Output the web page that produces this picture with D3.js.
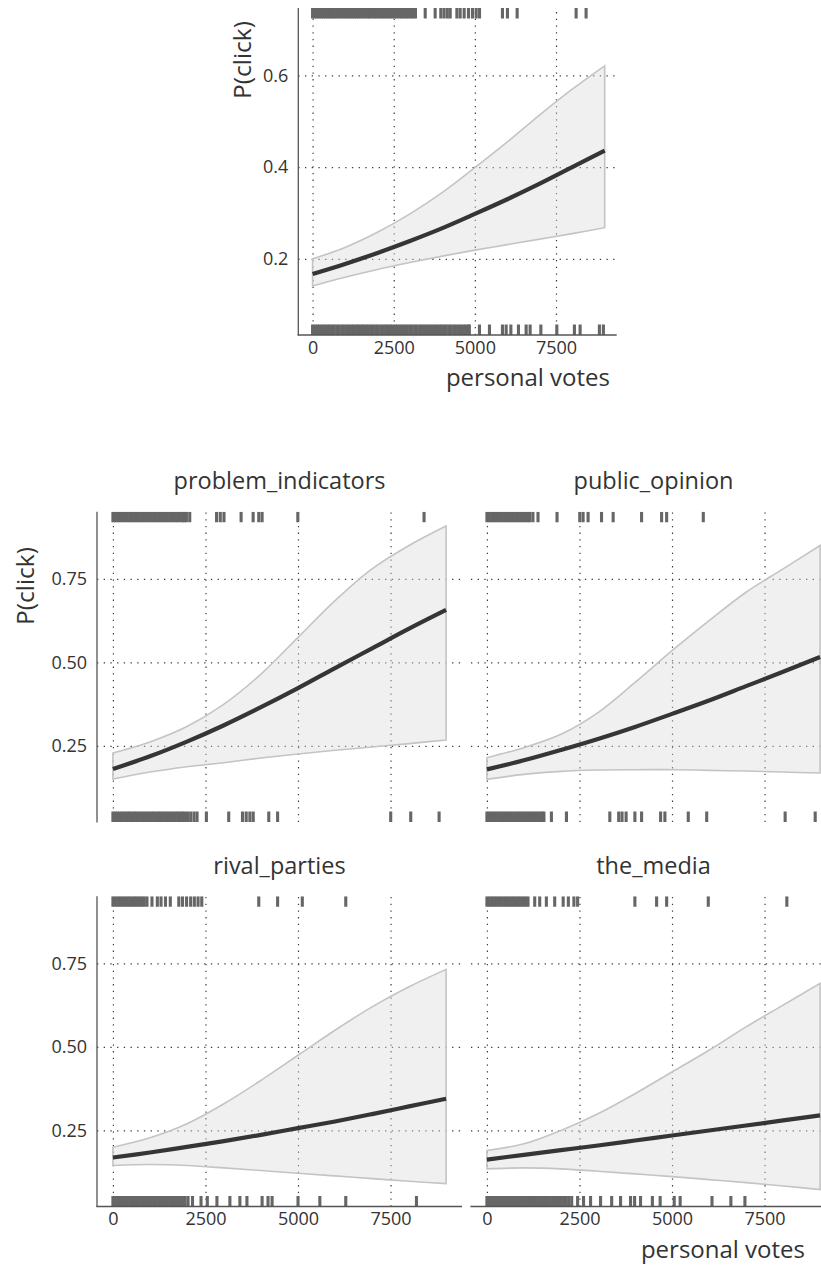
<!DOCTYPE html>
<html>
<head>
<meta charset="utf-8">
<script src="https://cdn.jsdelivr.net/npm/d3@7"></script>
<style>
  body { margin: 0; background: #fff; }
  text { font-family: "Open Sans", sans-serif; fill: #333; }
</style>
</head>
<body>
<svg id="chart" width="821" height="1266"></svg>
<script>
// ---- data -------------------------------------------------------------
const xTicks = [0, 2500, 5000, 7500];
const overallYTicks = [0.2, 0.4, 0.6];
const facetYTicks = [0.25, 0.50, 0.75];
const facetNames = ["problem_indicators", "public_opinion", "rival_parties", "the_media"];

// personal votes at which the fitted curve and its band are given
const fitGrid = [0, 1000, 2000, 3000, 4000, 5000, 6000, 7000, 8000, 9000];

const overallFit  = [0.167, 0.189, 0.213, 0.239, 0.267, 0.298, 0.330, 0.364, 0.400, 0.436];
const overallLow  = [0.141, 0.160, 0.177, 0.192, 0.206, 0.219, 0.231, 0.243, 0.255, 0.268];
const overallHigh = [0.200, 0.225, 0.258, 0.298, 0.345, 0.399, 0.455, 0.514, 0.570, 0.621];

const problemFit  = [0.181, 0.219, 0.263, 0.312, 0.366, 0.423, 0.483, 0.542, 0.601, 0.657];
const problemLow  = [0.151, 0.172, 0.188, 0.200, 0.214, 0.226, 0.237, 0.247, 0.257, 0.268];
const problemHigh = [0.229, 0.262, 0.308, 0.375, 0.465, 0.575, 0.685, 0.780, 0.850, 0.908];

const publicFit  = [0.180, 0.207, 0.238, 0.271, 0.307, 0.346, 0.386, 0.429, 0.472, 0.516];
const publicLow  = [0.150, 0.165, 0.174, 0.178, 0.179, 0.179, 0.177, 0.175, 0.172, 0.169];
const publicHigh = [0.215, 0.245, 0.285, 0.350, 0.440, 0.535, 0.625, 0.710, 0.780, 0.850];

const rivalFit  = [0.169, 0.184, 0.201, 0.218, 0.237, 0.257, 0.277, 0.299, 0.322, 0.345];
const rivalLow  = [0.145, 0.148, 0.145, 0.138, 0.130, 0.122, 0.114, 0.106, 0.098, 0.091];
const rivalHigh = [0.200, 0.228, 0.270, 0.330, 0.400, 0.475, 0.550, 0.620, 0.680, 0.732];

const mediaFit  = [0.163, 0.177, 0.191, 0.205, 0.220, 0.235, 0.250, 0.265, 0.280, 0.295];
const mediaLow  = [0.135, 0.138, 0.135, 0.128, 0.120, 0.112, 0.103, 0.094, 0.084, 0.073];
const mediaHigh = [0.190, 0.210, 0.250, 0.300, 0.360, 0.425, 0.490, 0.560, 0.625, 0.690];

// observed personal votes (rug): clicked = 1 on top, clicked = 0 at bottom
const overallClicked = [0, 60, 130, 200, 265, 330, 400, 470, 540, 600, 670, 740, 810, 880, 945,
  1010, 1080, 1150, 1220, 1290, 1350, 1420, 1490, 1560, 1630, 1700, 1760, 1830, 1900, 1970,
  2040, 2110, 2170, 2240, 2310, 2380, 2450, 2520, 2590, 2680, 2750, 2820, 2890, 2960, 3030,
  3100, 3170, 3470, 3777, 3950, 4050, 4150, 4240, 4446, 4547, 4670, 4803, 4926, 5040, 5143,
  5850, 6004, 6303, 8120, 8427];
const overallNotClicked = [0, 70, 150, 220, 300, 370, 450, 520, 600, 670, 750, 820, 900, 970,
  1050, 1120, 1200, 1270, 1350, 1420, 1500, 1570, 1650, 1720, 1800, 1870, 1950, 2020, 2100,
  2170, 2250, 2320, 2400, 2470, 2550, 2620, 2700, 2770, 2850, 2920, 3000, 3070, 3150, 3220,
  3300, 3370, 3450, 3520, 3600, 3670, 3750, 3820, 3900, 3970, 4050, 4120, 4200, 4270, 4350,
  4420, 4500, 4570, 4650, 4720, 4800, 4830, 5142, 5450, 5850, 5964, 6109, 6343, 6580, 6703,
  7033, 7525, 8067, 8243, 8837, 8960];

const problemClicked = [0, 65, 130, 195, 260, 325, 390, 455, 520, 585, 650, 715, 780, 845, 910,
  975, 1040, 1105, 1170, 1235, 1300, 1365, 1430, 1495, 1560, 1625, 1690, 1755, 1820, 1885,
  1930, 1985, 2075, 2800, 2900, 3000, 3463, 3788, 3940, 4030, 4995, 8405];
const problemNotClicked = [0, 60, 125, 190, 255, 320, 385, 450, 515, 580, 645, 710, 775, 840,
  905, 970, 1035, 1100, 1165, 1230, 1295, 1360, 1425, 1490, 1555, 1620, 1685, 1750, 1815,
  1880, 1945, 2015, 2100, 2190, 2273, 2525, 3128, 3500, 3600, 3700, 3790, 4210, 4449, 7504,
  8045, 8811];

const publicClicked = [0, 65, 130, 195, 260, 325, 390, 455, 520, 585, 650, 715, 780, 845, 910,
  975, 1040, 1100, 1160, 1243, 1380, 1894, 2508, 2598, 2733, 3096, 3410, 4178, 4719, 4855, 5845];
const publicNotClicked = [0, 60, 125, 190, 255, 320, 385, 450, 515, 580, 645, 710, 775, 840,
  905, 970, 1035, 1100, 1165, 1230, 1295, 1360, 1425, 1490, 1540, 1742, 2148, 3320, 3560,
  3650, 3760, 3997, 4178, 4692, 4808, 5439, 5937, 8056, 8868];

const rivalClicked = [0, 65, 130, 195, 260, 325, 390, 455, 520, 585, 650, 715, 780, 845, 920,
  1055, 1200, 1300, 1420, 1550, 1780, 1880, 1990, 2100, 2200, 2300, 2400, 3940, 4449, 5116, 6290];
const rivalNotClicked = [0, 65, 130, 195, 260, 325, 390, 455, 520, 585, 650, 715, 780, 845, 910,
  975, 1040, 1105, 1170, 1235, 1300, 1365, 1430, 1495, 1560, 1625, 1690, 1755, 1820, 1885,
  1950, 2030, 2150, 2380, 2550, 2810, 3160, 3430, 3620, 4030, 4190, 4300, 5000, 5590, 6290, 8200];

const mediaClicked = [0, 65, 130, 195, 260, 325, 390, 455, 520, 585, 650, 715, 780, 845, 910,
  975, 1040, 1110, 1291, 1426, 1606, 1831, 2060, 2200, 2350, 2450, 3997, 4584, 4855, 5980, 8102];
const mediaNotClicked = [0, 60, 125, 190, 255, 320, 385, 450, 515, 580, 645, 710, 775, 840,
  905, 970, 1035, 1100, 1165, 1230, 1295, 1360, 1425, 1490, 1555, 1620, 1685, 1750, 1815,
  1880, 1945, 2010, 2075, 2140, 2210, 2290, 2450, 2610, 2800, 3070, 3370, 3610, 3880, 3990,
  4150, 4470, 4680, 5060, 5220, 6080, 6590, 6970];

// ---- drawing ----------------------------------------------------------
const svg = d3.select("#chart");
const RUG_LEN = 10.5;
const RUG_W = 3.1;
const TICK_FONT = 18;

function drawPanel(p) {
  const x = d3.scaleLinear().domain(p.xDomain).range(p.xRange);
  const y = d3.scaleLinear().domain(p.yDomain).range(p.yRange);
  const [x0, x1] = p.xRange;
  const [yb, yt] = p.yRange;
  const g = svg.append("g");

  const clipId = "clip-" + p.id;
  g.append("clipPath").attr("id", clipId)
    .append("rect").attr("x", x0).attr("y", yt).attr("width", x1 - x0).attr("height", yb - yt);
  const body = g.append("g").attr("clip-path", `url(#${clipId})`);

  // dotted grid
  const gx = body.append("g").attr("transform", `translate(0,${yb})`)
    .call(d3.axisBottom(x).tickValues(xTicks).tickSize(-(yb - yt)).tickFormat(""));
  const gy = body.append("g").attr("transform", `translate(${x0},0)`)
    .call(d3.axisLeft(y).tickValues(p.yTicks).tickSize(-(x1 - x0)).tickFormat(""));
  [gx, gy].forEach(a => {
    a.select(".domain").remove();
    a.selectAll("line").attr("stroke", "#3a3a3a").attr("stroke-width", 1.2)
      .attr("stroke-dasharray", "1.3,5.4");
  });

  // confidence band
  const rows = fitGrid.map((v, i) => ({ v, fit: p.fit[i], lo: p.low[i], hi: p.high[i] }));
  const curve = d3.curveCatmullRom.alpha(0.5);
  body.append("path").datum(rows)
    .attr("d", d3.area().curve(curve).x(d => x(d.v)).y0(d => y(d.lo)).y1(d => y(d.hi)))
    .attr("fill", "#d9d9d9").attr("fill-opacity", 0.4)
    .attr("stroke", "#c4c4c4").attr("stroke-width", 1.6);

  // fitted probability
  body.append("path").datum(rows)
    .attr("d", d3.line().curve(curve).x(d => x(d.v)).y(d => y(d.fit)))
    .attr("fill", "none").attr("stroke", "#353535").attr("stroke-width", 4.2);

  // rugs
  body.append("g").selectAll("line").data(p.clicked).join("line")
    .attr("x1", d => x(d)).attr("x2", d => x(d))
    .attr("y1", yt).attr("y2", yt + RUG_LEN)
    .attr("stroke", "#666").attr("stroke-width", RUG_W);
  body.append("g").selectAll("line").data(p.notClicked).join("line")
    .attr("x1", d => x(d)).attr("x2", d => x(d))
    .attr("y1", yb - RUG_LEN).attr("y2", yb)
    .attr("stroke", "#666").attr("stroke-width", RUG_W);

  // axis lines
  if (p.leftAxis) {
    g.append("line").attr("x1", x0).attr("x2", x0).attr("y1", yt).attr("y2", yb + 0.6)
      .attr("stroke", "#555").attr("stroke-width", 1.3);
  }
  if (p.bottomAxis) {
    g.append("line").attr("x1", x0 - 0.6).attr("x2", x1).attr("y1", yb).attr("y2", yb)
      .attr("stroke", "#555").attr("stroke-width", 1.3);
  }

  // tick labels
  if (p.leftAxis) {
    const ay = g.append("g").attr("transform", `translate(${x0},0)`)
      .call(d3.axisLeft(y).tickValues(p.yTicks).tickSize(0).tickPadding(10)
        .tickFormat(d3.format(p.yFormat)));
    ay.select(".domain").remove();
    ay.selectAll("text").attr("font-size", TICK_FONT).attr("font-family", null).attr("fill", "#2b2b2b");
  }
  if (p.bottomAxis) {
    const ax = g.append("g").attr("transform", `translate(0,${yb})`)
      .call(d3.axisBottom(x).tickValues(xTicks).tickSize(0).tickPadding(6)
        .tickFormat(d3.format("d")));
    ax.select(".domain").remove();
    ax.selectAll("text").attr("font-size", TICK_FONT).attr("font-family", null).attr("fill", "#2b2b2b");
  }

  if (p.title) {
    g.append("text").attr("x", (x0 + x1) / 2).attr("y", p.titleY)
      .attr("text-anchor", "middle").attr("font-size", 23.5).text(p.title);
  }
  return { x, y };
}

// single panel
drawPanel({
  id: "overall",
  xDomain: [-440, 9370], xRange: [298.3, 616.7],
  yDomain: [0.034, 0.747], yRange: [335, 8],
  yTicks: overallYTicks, yFormat: ".1f",
  fit: overallFit, low: overallLow, high: overallHigh,
  clicked: overallClicked, notClicked: overallNotClicked,
  leftAxis: true, bottomAxis: true
});
svg.append("text").attr("transform", "translate(251,60) rotate(-90)")
  .attr("text-anchor", "middle").attr("font-size", 24.5).text("P(click)");
svg.append("text").attr("x", 610).attr("y", 386)
  .attr("text-anchor", "end").attr("font-size", 24).text("personal votes");

// faceted panels
const facetData = [
  { fit: problemFit, low: problemLow, high: problemHigh, clicked: problemClicked, notClicked: problemNotClicked },
  { fit: publicFit, low: publicLow, high: publicHigh, clicked: publicClicked, notClicked: publicNotClicked },
  { fit: rivalFit, low: rivalLow, high: rivalHigh, clicked: rivalClicked, notClicked: rivalNotClicked },
  { fit: mediaFit, low: mediaLow, high: mediaHigh, clicked: mediaClicked, notClicked: mediaNotClicked }
];
const colRanges = [[97, 462], [471, 836]];
const rowRanges = [[822, 511.7], [1206.5, 896.2]];
const titleYs = [489, 873.5];

facetNames.forEach((name, i) => {
  const col = i % 2, row = Math.floor(i / 2);
  drawPanel(Object.assign({
    id: name,
    xDomain: [-430, 9430], xRange: colRanges[col],
    yDomain: [0.0225, 0.951], yRange: rowRanges[row],
    yTicks: facetYTicks, yFormat: ".2f",
    leftAxis: col === 0, bottomAxis: row === 1,
    title: name, titleY: titleYs[row]
  }, facetData[i]));
});

svg.append("text").attr("transform", "translate(34,586) rotate(-90)")
  .attr("text-anchor", "middle").attr("font-size", 24.5).text("P(click)");
svg.append("text").attr("x", 805).attr("y", 1258)
  .attr("text-anchor", "end").attr("font-size", 24).text("personal votes");
</script>
</body>
</html>
